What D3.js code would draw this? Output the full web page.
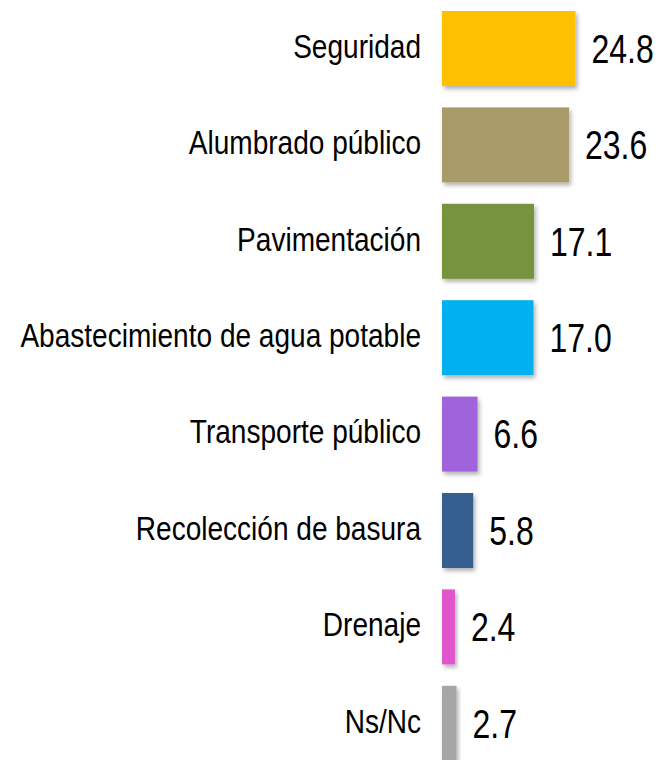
<!DOCTYPE html>
<html>
<head>
<meta charset="utf-8">
<script src="https://cdn.jsdelivr.net/npm/d3@7"></script>
<style>
  html, body { margin: 0; padding: 0; background: #fff; }
  svg { display: block; }
  text { font-family: 'Liberation Sans', Arial, sans-serif; fill: #000; }
</style>
</head>
<body>
<svg></svg>
<script>
const categories = ['Seguridad', 'Alumbrado público', 'Pavimentación', 'Abastecimiento de agua potable',
                    'Transporte público', 'Recolección de basura', 'Drenaje', 'Ns/Nc'];
const values = [24.8, 23.6, 17.1, 17.0, 6.6, 5.8, 2.4, 2.7];
const valueLabels = ['24.8', '23.6', '17.1', '17.0', '6.6', '5.8', '2.4', '2.7'];
const colors = ['#FFC000', '#A99B69', '#77933C', '#00B0F0', '#A064DC', '#365F91', '#E055CC', '#A6A6A6'];

const w = 658, h = 760;
const x0 = 442;
// text in the reference is horizontally compressed
const catSqueeze = 0.85;
const valSqueeze = 0.78;

const svg = d3.select('svg')
    .attr('width', w)
    .attr('height', h);

// soft shadow under the bars
const defs = svg.append('defs');
const f = defs.append('filter').attr('id', 'shadow')
    .attr('x', '-20%').attr('y', '-20%').attr('width', '150%').attr('height', '150%');
f.append('feDropShadow')
    .attr('dx', 2).attr('dy', 3)
    .attr('stdDeviation', 2)
    .attr('flood-color', '#000')
    .attr('flood-opacity', 0.3);

const yScale = d3.scaleBand()
    .domain(categories)
    .range([0.3, 0.3 + 96.4 * 8])
    .paddingInner(0.222)
    .paddingOuter(0.111);

const xScale = d3.scaleLinear()
    .domain([0, 24.8])
    .range([x0, x0 + 133.5]);

const rows = categories.map((c, i) => ({ cat: c, v: values[i], lbl: valueLabels[i], col: colors[i] }));

svg.selectAll('rect.bar')
    .data(rows)
    .enter()
    .append('rect')
    .attr('class', 'bar')
    .attr('x', xScale(0))
    .attr('y', d => yScale(d.cat))
    .attr('width', d => xScale(d.v) - xScale(0))
    .attr('height', yScale.bandwidth())
    .attr('fill', d => d.col)
    .attr('filter', 'url(#shadow)');

// category labels
svg.selectAll('text.cat')
    .data(rows)
    .enter()
    .append('text')
    .attr('class', 'cat')
    .attr('transform', d => `translate(421, ${yScale(d.cat) + yScale.bandwidth() / 2}) scale(${catSqueeze}, 1)`)
    .attr('dy', '0.28em')
    .style('font-size', '33px')
    .style('text-anchor', 'end')
    .text(d => d.cat);

// value labels
svg.selectAll('text.val')
    .data(rows)
    .enter()
    .append('text')
    .attr('class', 'val')
    .attr('transform', d => `translate(${xScale(d.v) + 16}, ${yScale(d.cat) + yScale.bandwidth() / 2}) scale(${valSqueeze}, 1)`)
    .attr('dy', '0.35em')
    .style('font-size', '41px')
    .text(d => d.lbl);
</script>
</body>
</html>
